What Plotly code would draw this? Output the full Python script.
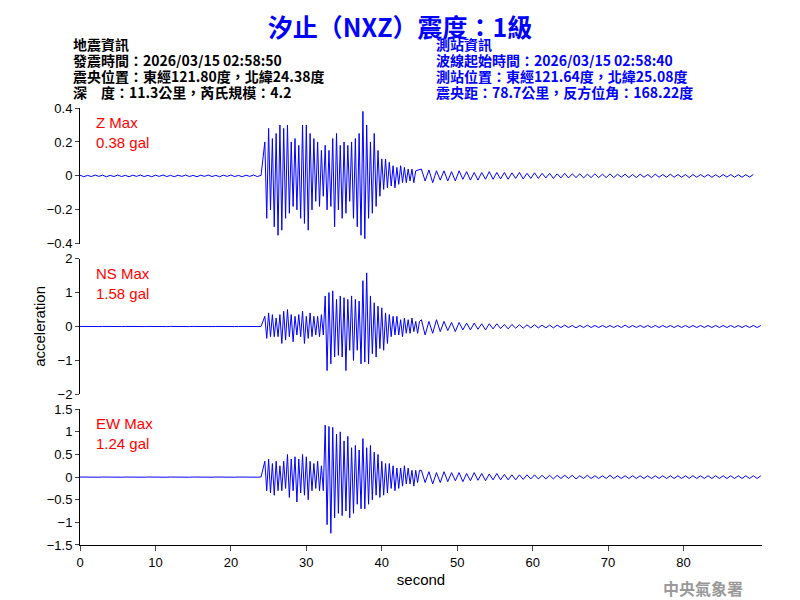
import plotly.graph_objects as go
from plotly.subplots import make_subplots

# sample segments: (start time, step)
PRE_START, PRE_STEP = 0.0, 0.5
EV_START, EV_STEP = 24.5, 0.25
TAIL_START, TAIL_STEP = 45.25, 0.5

z_pre = [0.004,-0.005,0.003,-0.004,0.005,-0.003,0.004,-0.005,0.003,-0.004,0.005,-0.004,0.003,-0.005,0.004,-0.003,0.005,-0.004,0.003,-0.005,0.004,-0.003,0.005,-0.004,0.003,-0.005,0.004,-0.003,0.005,-0.004,0.003,-0.005,0.004,-0.003,0.005,-0.004,0.003,-0.005,0.004,-0.003,0.005,-0.004,0.003,-0.005,0.004,-0.003,0.005,-0.004,0.003]
z_ev = [0.2,-0.25,0.28,-0.2,0.22,-0.3,0.25,-0.35,0.3,-0.32,0.28,-0.25,0.3,-0.22,0.2,-0.18,0.22,-0.2,0.18,-0.25,0.3,-0.28,0.3,-0.32,0.25,-0.2,0.22,-0.15,0.2,-0.18,0.15,-0.12,0.18,-0.2,0.15,-0.18,0.22,-0.3,0.25,-0.2,0.18,-0.25,0.2,-0.22,0.18,-0.15,0.2,-0.25,0.22,-0.3,0.25,-0.35,0.38,-0.37,0.3,-0.25,0.2,-0.22,0.25,-0.18,0.15,-0.12,0.1,-0.08,0.1,-0.07,0.08,-0.06,0.06,-0.07,0.05,-0.05,0.06,-0.04,0.05,-0.04,0.04,-0.03,0.04,-0.04,0.03]
z_tail = [0.04,-0.03,0.035,-0.04,0.03,-0.025,0.03,-0.03,0.025,-0.03,0.03,-0.02,0.025,-0.025,0.02,-0.025,0.02,-0.02,0.025,-0.02,0.02,-0.018,0.02,-0.02,0.018,-0.015,0.02,-0.018,0.015,-0.015,0.018,-0.015,0.015,-0.012,0.015,-0.015,0.012,-0.012,0.015,-0.012,0.012,-0.01,0.012,-0.012,0.01,-0.01,0.012,-0.01,0.01,-0.01,0.012,-0.01,0.01,-0.008,0.01,-0.01,0.008,-0.01,0.01,-0.008,0.008,-0.01,0.01,-0.008,0.008,-0.008,0.01,-0.008,0.008,-0.008,0.008,-0.01,0.008,-0.008,0.008,-0.007,0.008,-0.008,0.007,-0.008,0.008,-0.007,0.008,-0.008,0.007,-0.008,0.007,-0.007,0.008]

ns_pre = [0.002,-0.002]*24 + [0.002]
ns_ev = [0.3,-0.35,0.4,-0.3,0.35,-0.3,0.25,-0.3,0.35,-0.5,0.45,-0.4,0.5,-0.3,0.35,-0.45,0.3,-0.25,0.35,-0.3,0.45,-0.5,0.3,-0.35,0.4,-0.3,0.3,-0.25,0.3,-0.3,0.35,-0.25,0.9,-1.3,1.0,-1.1,1.05,-0.9,0.8,-0.85,0.9,-0.9,0.85,-1.3,0.8,-0.7,0.9,-1.0,0.8,-0.7,0.75,-1.1,1.35,-1.05,1.58,-1.1,0.9,-0.8,0.7,-0.9,0.6,-0.65,0.55,-0.7,0.4,-0.5,0.35,-0.3,0.3,-0.25,0.3,-0.25,0.2,-0.3,0.25,-0.2,0.2,-0.2,0.25,-0.15,0.15,-0.2,0.15]
ns_tail = [0.2,-0.25,0.15,-0.2,0.2,-0.15,0.15,-0.12,0.12,-0.15,0.12,-0.1,0.1,-0.1,0.1,-0.08,0.08,-0.1,0.08,-0.07,0.08,-0.06,0.06,-0.07,0.06,-0.05,0.05,-0.05,0.05,-0.04,0.05,-0.04,0.04,-0.04,0.04,-0.04,0.04,-0.03,0.04,-0.03,0.03,-0.04,0.03,-0.03,0.04,-0.03,0.03,-0.03,0.03,-0.03,0.03,-0.03,0.03,-0.03,0.04,-0.03,0.03,-0.03,0.03,-0.03,0.03,-0.03,0.03,-0.03,0.03,-0.03,0.03,-0.03,0.03,-0.03,0.03,-0.03,0.03,-0.03,0.03,-0.03,0.03,-0.03,0.03,-0.03,0.03,-0.03,0.03,-0.03,0.03,-0.03,0.03,-0.03,0.03,-0.03,0.03]

ew_pre = [0.002,-0.002]*24 + [0.002]
ew_ev = [0.35,-0.3,0.4,-0.35,0.3,-0.4,0.35,-0.3,0.25,-0.3,0.35,-0.25,0.5,-0.45,0.4,-0.3,0.45,-0.55,0.4,-0.35,0.5,-0.4,0.45,-0.5,0.35,-0.3,0.3,-0.25,0.35,-0.3,0.25,-0.3,1.15,-1.05,1.12,-1.24,1.1,-0.9,0.95,-0.8,1.0,-0.85,0.8,-0.75,0.9,-0.9,0.65,-0.8,0.7,-0.6,0.6,-0.7,0.85,-0.7,0.65,-0.6,0.7,-0.5,0.55,-0.4,0.5,-0.45,0.35,-0.4,0.3,-0.35,0.3,-0.25,0.25,-0.3,0.2,-0.25,0.2,-0.2,0.25,-0.15,0.2,-0.15,0.15,-0.2,0.15,-0.12,0.15]
ew_tail = [0.15,-0.12,0.12,-0.15,0.1,-0.12,0.12,-0.1,0.1,-0.08,0.1,-0.1,0.08,-0.08,0.1,-0.07,0.08,-0.08,0.07,-0.06,0.08,-0.06,0.06,-0.06,0.05,-0.06,0.05,-0.05,0.05,-0.04,0.05,-0.04,0.04,-0.04,0.04,-0.04,0.04,-0.03,0.04,-0.03,0.04,-0.04,0.03,-0.03,0.04,-0.03,0.03,-0.03,0.03,-0.03,0.04,-0.03,0.03,-0.03,0.03,-0.03,0.03,-0.03,0.03,-0.03,0.03,-0.03,0.03,-0.03,0.03,-0.03,0.03,-0.03,0.03,-0.03,0.03,-0.03,0.03,-0.03,0.03,-0.03,0.03,-0.03,0.03,-0.03,0.03,-0.03,0.03,-0.03,0.03,-0.03,0.03,-0.03,0.03,-0.03,0.03]

channels = ["Z", "NS", "EW"]
max_labels = ["0.38 gal", "1.58 gal", "1.24 gal"]
y_ranges = [[-0.4, 0.4], [-2, 2], [-1.5, 1.5]]
y_ticks = [[-0.4, -0.2, 0, 0.2, 0.4], [-2, -1, 0, 1, 2], [-1.5, -1, -0.5, 0, 0.5, 1, 1.5]]
x_ticks = [0, 10, 20, 30, 40, 50, 60, 70, 80]

left_lines = ["地震資訊", "發震時間：2026/03/15 02:58:50", "震央位置：東經121.80度，北緯24.38度", "深　度：11.3公里，芮氏規模：4.2"]
right_lines = ["測站資訊", "波線起始時間：2026/03/15 02:58:40", "測站位置：東經121.64度，北緯25.08度", "震央距：78.7公里，反方位角：168.22度"]


def times(pre, ev, tail):
    t = [PRE_START + PRE_STEP * i for i in range(len(pre))]
    t += [EV_START + EV_STEP * i for i in range(len(ev))]
    t += [TAIL_START + TAIL_STEP * i for i in range(len(tail))]
    return t


series = [(z_pre, z_ev, z_tail), (ns_pre, ns_ev, ns_tail), (ew_pre, ew_ev, ew_tail)]

fig = make_subplots(rows=3, cols=1, shared_xaxes=True, vertical_spacing=0.034)
for i, (pre, ev, tail) in enumerate(series):
    fig.add_trace(go.Scatter(x=times(pre, ev, tail), y=pre + ev + tail, mode="lines",
                             line=dict(color="#0000ff", width=1), showlegend=False), row=i + 1, col=1)
    fig.update_yaxes(range=y_ranges[i], tickvals=y_ticks[i], row=i + 1, col=1,
                     showline=True, linecolor="black", ticks="outside", ticklen=4,
                     showgrid=False, zeroline=False, tickfont=dict(size=13, color="black"))
    dom = "y domain" if i == 0 else f"y{i+1} domain"
    fig.add_annotation(x=0.02, y=0.97, xref="x domain" if i == 0 else f"x{i+1} domain", yref=dom,
                       text=f"{channels[i]} Max<br>{max_labels[i]}", showarrow=False, align="left",
                       xanchor="left", yanchor="top", font=dict(color="red", size=15, family="Liberation Sans"))

for i in range(3):
    fig.update_xaxes(range=[0, 90.4], showgrid=False, zeroline=False, row=i + 1, col=1,
                     showline=(i == 2), linecolor="black", ticks="outside" if i == 2 else "",
                     tickvals=x_ticks, ticklen=5, tickfont=dict(size=13, color="black"))
fig.update_xaxes(title=dict(text="second", font=dict(size=15, color="black"), standoff=5), row=3, col=1)

cjk = "Noto Sans CJK TC"
PLOT_TOP, PLOT_H = 100, 437
def py(pix):  # pixel row -> paper y
    return 1 - (pix - PLOT_TOP) / PLOT_H

for k, (lt, rt) in enumerate(zip(left_lines, right_lines)):
    ypos = py(36 + 16 * k)
    fig.add_annotation(x=-0.011, y=ypos, xref="paper", yref="paper", text=f"<b>{lt}</b>", showarrow=False,
                       xanchor="left", yanchor="middle", height=16, borderpad=0,
                       font=dict(family=cjk, size=14, color="black"))
    fig.add_annotation(x=0.521, y=ypos, xref="paper", yref="paper", text=f"<b>{rt}</b>", showarrow=False,
                       xanchor="left", yanchor="middle", height=16, borderpad=0,
                       font=dict(family=cjk, size=14, color="#0000ff"))
fig.add_annotation(x=0.975, y=py(580), xref="paper", yref="paper", text="<b>中央氣象署</b>", showarrow=False,
                   xanchor="right", yanchor="middle", font=dict(family=cjk, size=16, color="#999999"))
fig.add_annotation(x=-0.075, y=0.5, xref="paper", yref="paper", text="acceleration", textangle=-90,
                   showarrow=False, font=dict(size=15, color="black"))

fig.update_layout(
    width=800, height=600, plot_bgcolor="white", paper_bgcolor="white",
    margin=dict(l=72, r=46, t=PLOT_TOP, b=63),
    title=dict(text="<b>汐止（NXZ）震度：1級</b>", x=0.49, y=0.966, xanchor="center", yanchor="middle",
               font=dict(family=cjk, size=25, color="#0000ff")),
    font=dict(family="Liberation Sans"),
)
fig.write_html("out.html")
